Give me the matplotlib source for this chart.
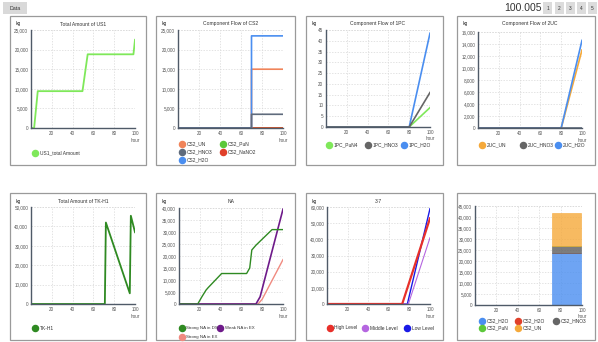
import matplotlib
matplotlib.use("Agg")
import matplotlib.pyplot as plt
from matplotlib.patches import Rectangle
from matplotlib.lines import Line2D
from matplotlib.ticker import FuncFormatter
import numpy as np

plt.rcParams["font.family"] = ["Liberation Sans", "DejaVu Sans"]

W, H = 598, 342

# ---------------- data ----------------
us1_x = [0, 3, 6.5, 49.5, 54.5, 98.5, 100]
us1_y = [0, 0, 9400, 9400, 18800, 18800, 22500]

cs2_x = [0, 70, 70.01, 100]
cs2_un = [0, 0, 15000, 15000]
cs2_pun = [0, 0, 0, 0]
cs2_hno3 = [0, 0, 3500, 3500]
cs2_nano2 = [0, 0, 0, 0]
cs2_h2o = [0, 0, 23500, 23500]

pc1_x = [0, 80, 100]
pc1_pun4 = [0, 0, 9]
pc1_hno3 = [0, 0, 16]
pc1_h2o = [0, 0, 43.5]

uc2_x = [0, 80, 100]
uc2_un = [0, 0, 13000]
uc2_hno3 = [0, 0, 0]
uc2_h2o = [0, 0, 14600]

tk_x = [0, 71, 72, 95, 96, 100]
tk_y = [0, 0, 42000, 5500, 45500, 37000]

na_ds_x = [0, 18, 22, 26, 28, 41, 65, 68, 70, 74, 89.5, 100]
na_ds_y = [0, 0, 3000, 5800, 6800, 12700, 12700, 15000, 22500, 24500, 31000, 31000]
na_wex_x = [0, 74, 78, 100]
na_wex_y = [0, 0, 3000, 39500]
na_sex_x = [0, 76, 80, 100]
na_sex_y = [0, 0, 2000, 18500]

l37_high_x = [0, 73, 100]
l37_high_y = [0, 0, 53000]
l37_mid_x = [0, 79, 100]
l37_mid_y = [0, 0, 41000]
l37_low_x = [0, 78, 100]
l37_low_y = [0, 0, 59000]

bar_left, bar_right = 71.5, 99.5
stack_labels = ["CS2_H2O", "CS2_H2O", "CS2_HNO3", "CS2_PuN", "CS2_UN"]
stack_values = [23500, 0, 3500, 0, 15000]

# ---------------- colours ----------------
GREEN_L = "#7fe85a"
ORANGE = "#f0845a"
GREEN = "#5cc83a"
SLATE = "#5f6b7c"
RED = "#e0402a"
BLUE = "#4a8ef0"
GREY = "#666666"
YORANGE = "#f5a93a"
DKGREEN = "#2f8a22"
PURPLE = "#6e1a8a"
PINK = "#f08a80"
HRED = "#e8302a"
VIOLET = "#b566e0"
LBLUE = "#1a1ae6"

fig = plt.figure(figsize=(W / 100, H / 100), dpi=100)
fig.patch.set_facecolor("white")


def fx(x):
    return x / W


def fy(y):
    return 1 - y / H


def box(l, t, r, b):
    fig.add_artist(Rectangle((fx(l), fy(b)), fx(r) - fx(l), fy(t) - fy(b),
                             transform=fig.transFigure, fill=False,
                             edgecolor="#9a9a9a", lw=0.9))


def mkax(l, t, r, b, ymax, ystep, title=None, kg_x=None, title_y=None):
    ax = fig.add_axes([fx(l), fy(b), fx(r) - fx(l), fy(t) - fy(b)])
    ax.set_xlim(0, 100)
    ax.set_ylim(0, ymax)
    ax.set_xticks([20, 40, 60, 80, 100])
    yt = np.arange(0, ymax + ystep / 2, ystep)
    ax.set_yticks(yt)
    if ymax >= 1000:
        ax.yaxis.set_major_formatter(FuncFormatter(lambda v, p: f"{int(v):,}"))
    ax.tick_params(length=0, labelsize=3.3, colors="#555555", pad=2)
    for s in ["top", "right"]:
        ax.spines[s].set_visible(False)
    for s in ["left", "bottom"]:
        ax.spines[s].set_color("#4f5a68")
        ax.spines[s].set_linewidth(1.0)
    ax.grid(True, ls=(0, (2, 2)), color="#d8d8d8", lw=0.5)
    ax.set_axisbelow(True)
    ax.axhline(ymax, ls=(0, (2, 2)), color="#d8d8d8", lw=0.5, zorder=0)
    if title:
        fig.text(fx((l + r) / 2), fy(title_y), title, fontsize=3.6,
                 ha="center", va="center", color="#333333")
    if kg_x is not None:
        fig.text(fx(kg_x), fy(title_y), "kg", fontsize=3.6, ha="left",
                 va="center", color="#333333")
    fig.text(fx(r), fy(b + 12), "hour", fontsize=3.3, ha="center",
             va="center", color="#555555")
    return ax


def legend_item(x, y, color, label, size=3.5):
    fig.add_artist(Line2D([fx(x)], [fy(y)], marker="o", markersize=4.4,
                          color=color, transform=fig.transFigure, lw=0))
    fig.text(fx(x + 4.5), fy(y), label, fontsize=size, ha="left", va="center",
             color="#333333")


# ---------- header ----------
fig.add_artist(Rectangle((fx(3), fy(14)), fx(24), fy(2) - fy(14),
                         transform=fig.transFigure, facecolor="#d9d9d9",
                         edgecolor="none"))
fig.text(fx(15), fy(8), "Data", fontsize=3.8, ha="center", va="center",
         color="#333333")
fig.text(fx(523), fy(8), "100.005", fontsize=7.5, ha="center", va="center",
         color="#333333")
for i, bx in enumerate([543, 555, 566, 577, 588]):
    fig.add_artist(Rectangle((fx(bx), fy(14)), fx(9), fy(2) - fy(14),
                             transform=fig.transFigure, facecolor="#dcdcdc",
                             edgecolor="none"))
    fig.text(fx(bx + 4.5), fy(8), str(i + 1), fontsize=3.4, ha="center",
             va="center", color="#333333")

# ---------- panel boxes ----------
for (l, r) in [(10, 146), (156, 295), (306, 443), (457, 595)]:
    box(l, 16, r, 165)
    box(l, 193, r, 340)

# ---------- P1 ----------
ax = mkax(31, 30, 135, 128, 25000, 5000, "Total Amount of US1", 16, 24)
ax.plot(us1_x, us1_y, color=GREEN_L, lw=1.3)
legend_item(35, 153, GREEN_L, "US1_total Amount")

# ---------- P2 ----------
ax = mkax(178, 30, 283, 128, 25000, 5000, "Component Flow of CS2", 162, 24)
ax.plot(cs2_x, cs2_pun, color=GREEN, lw=1.2)
ax.plot(cs2_x, cs2_nano2, color=RED, lw=1.2)
ax.plot(cs2_x, cs2_un, color=ORANGE, lw=1.2)
ax.plot(cs2_x, cs2_h2o, color=BLUE, lw=1.2)
ax.plot(cs2_x, cs2_hno3, color=SLATE, lw=1.2)
legend_item(182, 144, ORANGE, "CS2_UN")
legend_item(223, 144, GREEN, "CS2_PuN")
legend_item(182, 152, SLATE, "CS2_HNO3")
legend_item(223, 152, RED, "CS2_NaNO2")
legend_item(182, 160, BLUE, "CS2_H2O")

# ---------- P3 ----------
ax = mkax(326, 30, 430, 127, 45, 5, "Component Flow of 1PC", 312, 24)
ax.plot(pc1_x, pc1_pun4, color=GREEN_L, lw=1.2)
ax.plot(pc1_x, pc1_h2o, color=BLUE, lw=1.2)
ax.plot(pc1_x, pc1_hno3, color=GREY, lw=1.2)
legend_item(329, 145, GREEN_L, "1PC_PuN4")
legend_item(368, 145, GREY, "1PC_HNO3")
legend_item(404, 145, BLUE, "1PC_H2O")

# ---------- P4 ----------
ax = mkax(478, 32, 582, 128, 16000, 2000, "Component Flow of 2UC", 463, 24)
ax.plot(uc2_x, uc2_un, color=YORANGE, lw=1.2)
ax.plot(uc2_x, uc2_h2o, color=BLUE, lw=1.2)
ax.plot(uc2_x, uc2_hno3, color=SLATE, lw=1.2)
legend_item(482, 145, YORANGE, "2UC_UN")
legend_item(523, 145, GREY, "2UC_HNO3")
legend_item(558, 145, BLUE, "2UC_H2O")

# ---------- P5 ----------
ax = mkax(31, 207, 135, 304, 50000, 10000, "Total Amount of TK-H1", 16, 201)
ax.plot(tk_x, tk_y, color=DKGREEN, lw=1.3)
legend_item(35, 328, DKGREEN, "TK-H1")

# ---------- P6 ----------
ax = mkax(179, 208, 283, 304, 40000, 5000, "NA", 162, 201)
ax.plot(na_sex_x, na_sex_y, color=PINK, lw=1.0)
ax.plot(na_wex_x, na_wex_y, color=PURPLE, lw=1.2)
ax.plot(na_ds_x, na_ds_y, color=DKGREEN, lw=1.0)
legend_item(182, 328, DKGREEN, "Strong NA in DS", 3.2)
legend_item(220, 328, PURPLE, "Weak NA in EX", 3.2)
legend_item(182, 337, PINK, "Strong NA in EX", 3.2)

# ---------- P7 ----------
ax = mkax(327, 207, 430, 304, 60000, 10000, "3-7", 312, 201)
ax.plot(l37_low_x, l37_low_y, color=LBLUE, lw=1.0)
ax.plot(l37_mid_x, l37_mid_y, color=VIOLET, lw=0.8)
ax.plot(l37_high_x, l37_high_y, color=HRED, lw=1.6)
legend_item(330, 328, HRED, "High Level")
legend_item(365, 328, VIOLET, "Middle Level")
legend_item(407, 328, LBLUE, "Low Level")

# ---------- P8 ----------
ax = mkax(475, 206, 582, 305, 45000, 5000, None, None, 201)
stack_colors = [BLUE, RED, GREY, GREEN, YORANGE]
bottom = 0
for lab, val, col in zip(stack_labels, stack_values, stack_colors):
    ax.bar(bar_left, val, width=bar_right - bar_left, bottom=bottom,
           align="edge", color=col, alpha=0.8 if col != GREY else 0.85,
           edgecolor=col, lw=0.5)
    bottom += val
legend_item(482, 321, BLUE, "CS2_H2O")
legend_item(518, 321, RED, "CS2_H2O")
legend_item(556, 321, GREY, "CS2_HNO3")
legend_item(482, 328, GREEN, "CS2_PuN")
legend_item(518, 328, YORANGE, "CS2_UN")

fig.savefig("out.png", dpi=100)
